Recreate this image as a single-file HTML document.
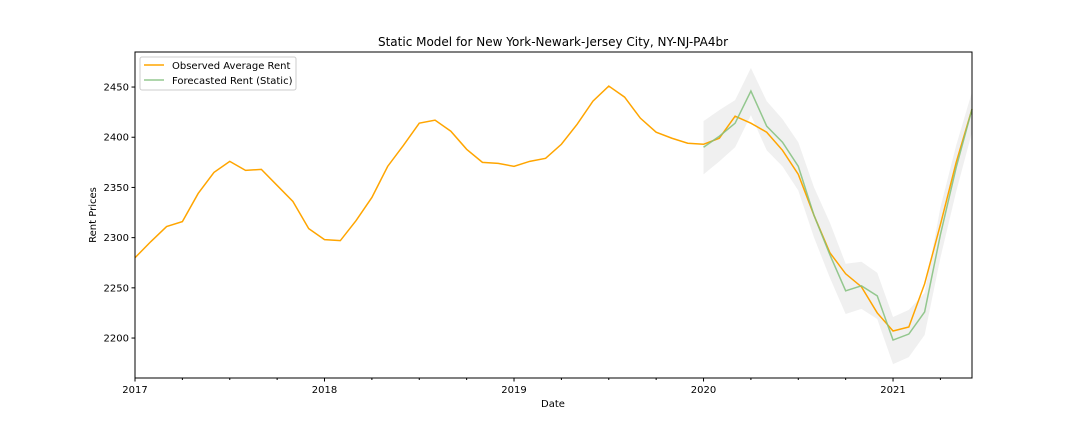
<!DOCTYPE html>
<html><head><meta charset="utf-8"><style>
body{margin:0;background:#fff;font-family:"Liberation Sans","DejaVu Sans",sans-serif}
svg text{font-family:"DejaVu Sans","Liberation Sans",sans-serif;font-size:10px;fill:#000}
</style></head><body>
<svg id="chart" width="1080" height="432" xmlns="http://www.w3.org/2000/svg"></svg>
<script>
const observed = [2280,2296,2311,2316,2344,2365,2376,2367,2368,2352,2336,2309,
2298,2297,2317,2340,2371,2392,2414,2417,2406,2388,2375,2374,
2371,2376,2379,2393,2413,2436,2451,2440,2419,2405,2399,2394,
2393,2399,2421,2414,2405,2387,2363,2322,2285,2264,2251,2225,
2207,2211,2254,2313,2375,2428];
const forecast = [2390,2401,2414,2446,2411,2395,2371,2322,2283,2247,2252,2242,2198,2204,2226,2303,2370,2428];
const upper = [2416,2427,2437,2469,2436,2418,2395,2350,2315,2274,2276,2265,2221,2228,2245,2330,2392,2445];
const lower = [2363,2376,2390,2422,2387,2371,2347,2300,2260,2224,2229,2219,2174,2181,2203,2280,2346,2405];
const forecastStart = 36;
const yTicks = [2200,2250,2300,2350,2400,2450];
const xTickLabels = ["2017","2018","2019","2020","2021"];

const svg = document.getElementById('chart');
const NS = 'http://www.w3.org/2000/svg';
const L=135,R=972,T=52,B=378;
const yMin=2160.2,yMax=2484.9;
const xs = i => L + (R-L)*i/(observed.length-1);
const ys = v => B - (v-yMin)/(yMax-yMin)*(B-T);
function mk(tag, attrs, parent){const e=document.createElementNS(NS,tag);for(const k in attrs)e.setAttribute(k,attrs[k]);(parent||svg).appendChild(e);return e;}

// band
let bp = upper.map((v,i)=>xs(forecastStart+i)+','+ys(v));
bp = bp.concat(lower.map((v,i)=>xs(forecastStart+i)+','+ys(v)).reverse());
const band = mk('polygon',{points:bp.join(' '),fill:'#e6e6e6','fill-opacity':'0.6'});



const obs = mk('polyline',{points:observed.map((v,i)=>xs(i)+','+ys(v)).join(' '),fill:'none',stroke:'#ffa500','stroke-width':1.5});


const fc = mk('polyline',{points:forecast.map((v,i)=>xs(forecastStart+i)+','+ys(v)).join(' '),fill:'none',stroke:'#82c07c','stroke-opacity':0.85,'stroke-width':1.5});



const frame = mk('rect',{x:L,y:T,width:R-L,height:B-T,fill:'none',stroke:'#000','stroke-width':1});



yTicks.forEach(v=>{
  const y=ys(v);
  mk('line',{x1:L-3.5,x2:L,y1:y,y2:y,stroke:'#000'});
  const t=mk('text',{x:L-6,y:y+3.5,'text-anchor':'end'});t.textContent=v;
  
  
});
for(let i=0;i<observed.length;i+=3){
  const major = i%12===0;
  mk('line',{x1:xs(i),x2:xs(i),y1:B,y2:B+(major?3.5:2),stroke:'#000'});
  if(major){
    const t=mk('text',{x:xs(i),y:B+15,'text-anchor':'middle'});t.textContent=xTickLabels[i/12];
    
    
  }
}
const title=mk('text',{x:553,y:46,'text-anchor':'middle',style:'font-size:12px'});title.textContent='Static Model for New York-Newark-Jersey City, NY-NJ-PA4br';


const xl=mk('text',{x:553,y:407,'text-anchor':'middle'});xl.textContent='Date';


const yl=mk('text',{x:96,y:215,'text-anchor':'middle',transform:'rotate(-90 96 215)'});yl.textContent='Rent Prices';



const lg=mk('g',{});


mk('rect',{x:140,y:57,width:156,height:33,rx:2,fill:'#fff','fill-opacity':0.8,stroke:'#ccc'},lg);
mk('line',{x1:144,x2:164,y1:65,y2:65,stroke:'#ffa500','stroke-width':1.5},lg);
mk('line',{x1:144,x2:164,y1:80,y2:80,stroke:'#82c07c','stroke-opacity':0.85,'stroke-width':1.5},lg);
const l1=mk('text',{x:172,y:69},lg);l1.textContent='Observed Average Rent';


const l2=mk('text',{x:172,y:84},lg);l2.textContent='Forecasted Rent (Static)';


</script>
</body></html>
